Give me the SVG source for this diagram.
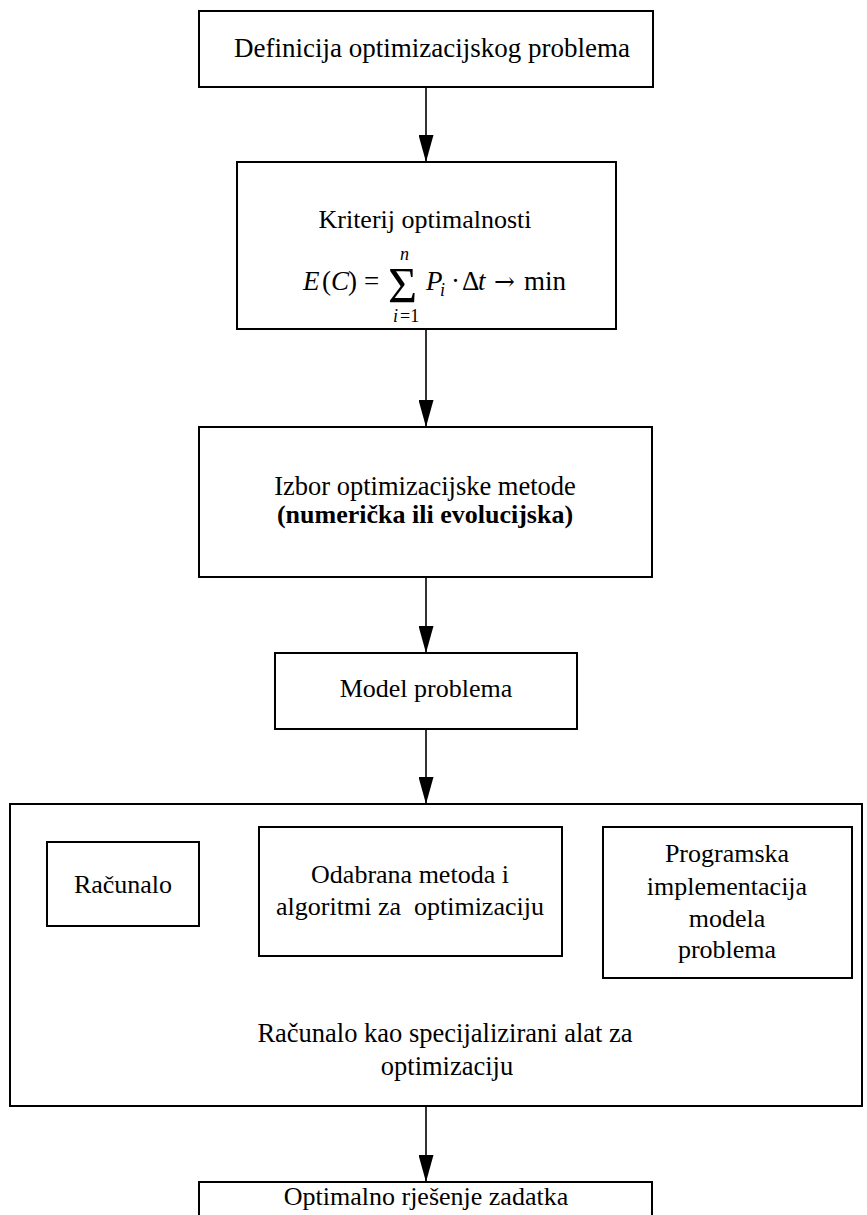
<svg xmlns="http://www.w3.org/2000/svg" width="867" height="1215" viewBox="0 0 867 1215">
<style>
.box{fill:#fff;stroke:#000;stroke-width:2}
.t{font-family:"Liberation Serif","Times New Roman",serif;font-size:26px;fill:#000;text-anchor:middle}
.f{font-family:"Liberation Serif","Times New Roman",serif;font-size:27px;fill:#000}
.it{font-style:italic}
.con{stroke:#000;stroke-width:1.6;fill:none;marker-end:url(#arr)}
</style>
<defs>
<marker id="arr" markerUnits="userSpaceOnUse" viewBox="0 0 27 15" markerWidth="27" markerHeight="15" refX="27" refY="7.5" orient="auto">
<path d="M0,0 L27,7.5 L0,15 z" fill="#000"/>
</marker>
</defs>
<g id="connectors">
<line class="con" x1="426" y1="87" x2="426" y2="162"/>
<line class="con" x1="426" y1="329" x2="426" y2="427"/>
<line class="con" x1="426" y1="577" x2="426" y2="653"/>
<line class="con" x1="426" y1="729" x2="426" y2="804"/>
<line class="con" x1="426" y1="1106" x2="426" y2="1182"/>
</g>
<g id="n1">
<rect class="box" x="199" y="11" width="454" height="76"/>
<text class="t" x="432" y="57" style="font-size:27px">Definicija optimizacijskog problema</text>
</g>
<g id="n2">
<rect class="box" x="237" y="162" width="379" height="167"/>
<text class="t" x="425" y="228">Kriterij optimalnosti</text>
<text class="f"><tspan class="it" x="303" y="290">E</tspan><tspan x="322" y="290">(</tspan><tspan class="it" x="331" y="290">C</tspan><tspan x="348" y="290">)</tspan><tspan x="364" y="290">=</tspan><tspan x="388" y="302" style="font-size:50px">Σ</tspan><tspan class="it" x="400" y="260" style="font-size:18px">n</tspan><tspan class="it" x="393" y="322" style="font-size:18px">i</tspan><tspan x="400" y="322" style="font-size:18px">=1</tspan><tspan class="it" x="426" y="290">P</tspan><tspan class="it" x="440" y="296" style="font-size:18px">i</tspan><tspan x="451" y="290">·</tspan><tspan x="462" y="290">Δ</tspan><tspan class="it" x="478" y="290">t</tspan><tspan x="494" y="290" style="font-family:'DejaVu Serif',serif;font-size:25px">→</tspan><tspan x="524" y="290">min</tspan></text>
</g>
<g id="n3">
<rect class="box" x="199" y="427" width="453" height="150"/>
<text class="t" x="425" y="495" style="font-size:26.5px">Izbor optimizacijske metode</text>
<text class="t" x="425" y="523" font-weight="bold">(numerička ili evolucijska)</text>
</g>
<g id="n4">
<rect class="box" x="275" y="653" width="302" height="76"/>
<text class="t" x="426" y="697">Model problema</text>
</g>
<g id="n5">
<rect class="box" x="10" y="804" width="852" height="302"/>
<text class="t" x="445" y="1042" style="font-size:26.5px">Računalo kao specijalizirani alat za</text>
<text class="t" x="447" y="1075" style="font-size:26.5px">optimizaciju</text>
</g>
<g id="n6">
<rect class="box" x="47" y="842" width="152" height="84"/>
<text class="t" x="123" y="893">Računalo</text>
</g>
<g id="n7">
<rect class="box" x="259" y="827" width="303" height="129"/>
<text class="t" x="410" y="883">Odabrana metoda i</text>
<text class="t" x="410" y="915" xml:space="preserve">algoritmi za  optimizaciju</text>
</g>
<g id="n8">
<rect class="box" x="603" y="827" width="249" height="151"/>
<text class="t" x="727" y="862">Programska</text>
<text class="t" x="727" y="895">implementacija</text>
<text class="t" x="727" y="927">modela</text>
<text class="t" x="727" y="958">problema</text>
</g>
<g id="n9">
<rect class="box" x="199" y="1182" width="453" height="60"/>
<text class="t" x="426" y="1205">Optimalno rješenje zadatka</text>
</g>
</svg>
